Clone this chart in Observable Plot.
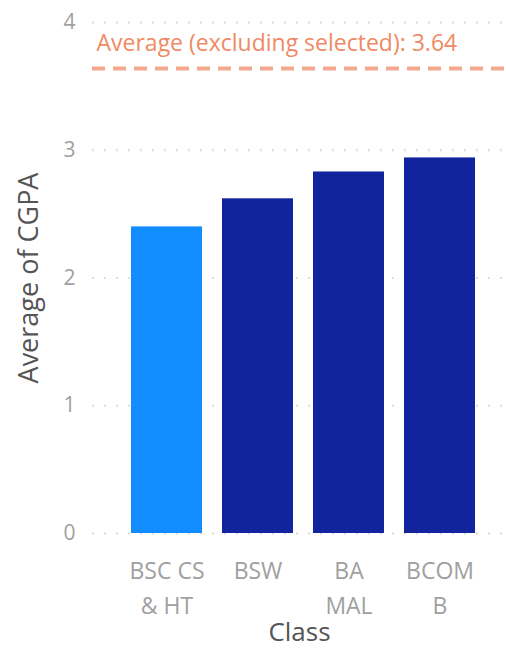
<!DOCTYPE html>
<html>
<head>
<meta charset="utf-8">
<script src="https://cdn.jsdelivr.net/npm/d3@7"></script>
<script src="https://cdn.jsdelivr.net/npm/@observablehq/plot@0.6"></script>
<style>
  html, body { margin: 0; padding: 0; background: #fff; }
  #chart svg { display: block; }
</style>
</head>
<body>
<div id="chart"></div>
<script>
const classes = ["BSC CS & HT", "BSW", "BA MAL", "BCOM B"];
const cgpa = [2.40, 2.62, 2.83, 2.94];
const tickLabels = ["BSC CS\n& HT", "BSW", "BA\nMAL", "BCOM\nB"];
const selected = ["BSC CS & HT"];
const averageExcludingSelected = 3.64;
const yTicks = [0, 1, 2, 3, 4];

const data = classes.map((c, i) => ({cls: c, value: cgpa[i], sel: selected.includes(c)}));
const labelOf = Object.fromEntries(classes.map((c, i) => [c, tickLabels[i]]));

const font = "'Open Sans', 'Noto Sans', sans-serif";

const chart = Plot.plot({
  width: 506,
  height: 649,
  marginLeft: 92,
  marginRight: 0,
  marginTop: 22,
  marginBottom: 116,
  style: {fontFamily: font, background: "#fff"},
  x: {domain: classes, paddingInner: 0.22, paddingOuter: 0.38, align: 0.55},
  y: {domain: [0, 4]},
  marks: [
    Plot.gridY(yTicks, {stroke: "#dcdcdc", strokeOpacity: 1, strokeWidth: 2, strokeDasharray: "2,10"}),
    Plot.barY(data, {x: "cls", y: "value", fill: d => d.sel ? "#118DFF" : "#12239E"}),
    Plot.ruleY([averageExcludingSelected], {stroke: "#F3A98E", strokeWidth: 4, strokeDasharray: "13,8"}),
    Plot.text([averageExcludingSelected], {
      y: d => d, frameAnchor: "left", dx: 4, dy: -25,
      text: d => `Average (excluding selected): ${d.toFixed(2)}`,
      fill: "#EE8A64", fontSize: 23, textAnchor: "start", lineAnchor: "middle"
    }),
    Plot.axisY({
      ticks: yTicks, tickFormat: "d", tickSize: 0, tickPadding: 17, fontSize: 21, color: "#a0a0a0",
      label: "Average of CGPA", labelAnchor: "center", labelArrow: "none", labelOffset: 74
    }),
    Plot.axisX({
      tickSize: 0, tickPadding: 21, fontSize: 23, lineHeight: 1.52, color: "#a0a0a0",
      tickFormat: d => labelOf[d],
      label: null
    }),
    Plot.text(["Class"], {
      frameAnchor: "bottom", dy: 99, text: d => d, fontSize: 26, fill: "#555",
      lineAnchor: "middle"
    })
  ]
});

chart.querySelectorAll("g[aria-label='y-axis label'] text").forEach(t => {
  t.setAttribute("fill", "#555");
  t.setAttribute("font-size", "27");
});
document.getElementById("chart").appendChild(chart);
</script>
</body>
</html>
